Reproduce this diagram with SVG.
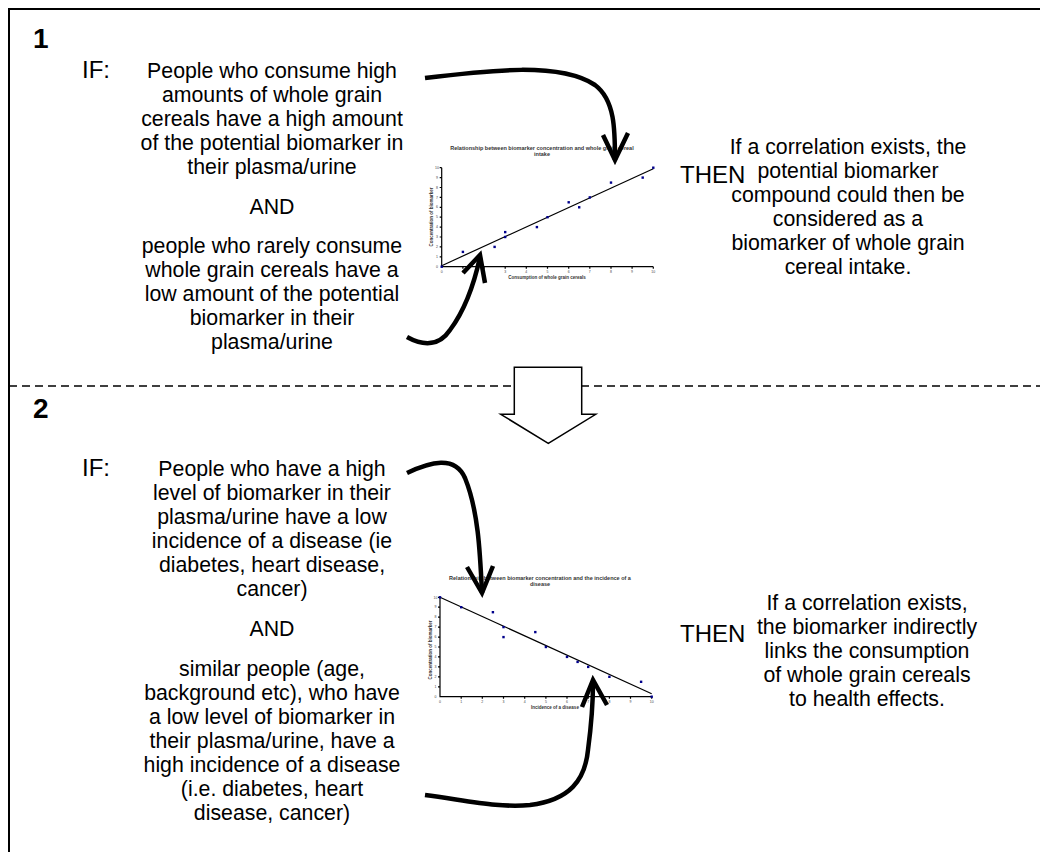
<svg xmlns="http://www.w3.org/2000/svg" width="1040" height="852" viewBox="0 0 1040 852">
<defs>
<style>
.t{font-family:"Liberation Sans",Arial,sans-serif;font-size:21.3px;fill:#000;text-anchor:middle}
.lbl{font-family:"Liberation Sans",Arial,sans-serif;font-size:24px;fill:#000}
.num{font-family:"Liberation Sans",Arial,sans-serif;font-size:28px;font-weight:bold;fill:#000}
.ct{font-family:"Liberation Sans",Arial,sans-serif;font-size:5.5px;font-weight:bold;fill:#333;text-anchor:middle}
.tk{font-family:"Liberation Sans",Arial,sans-serif;font-size:3.5px;fill:#444;text-anchor:middle}
.ax{stroke:#000;stroke-width:1.2;fill:none}
.tr{stroke:#000;stroke-width:1.2;fill:none}
.pt{fill:#00008b}
.arr{stroke:#000;stroke-width:4.5;fill:none;stroke-linecap:butt;stroke-linejoin:miter}
</style>
</defs>
<rect width="1040" height="852" fill="#fff"/>
<path d="M9,860 V9 H1050" fill="none" stroke="#000" stroke-width="2"/>
<line x1="9" y1="386" x2="1040" y2="386" stroke="#000" stroke-width="1.5" stroke-dasharray="8,5"/>

<g id="section1">
<text class="num" x="33" y="48">1</text>
<text class="lbl" x="82" y="78">IF:</text>
<text class="t" x="272"><tspan x="272" y="78">People who consume high</tspan><tspan x="272" y="102">amounts of whole grain</tspan><tspan x="272" y="126">cereals have a high amount</tspan><tspan x="272" y="150">of the potential biomarker in</tspan><tspan x="272" y="174">their plasma/urine</tspan><tspan x="272" y="214">AND</tspan><tspan x="272" y="253">people who rarely consume</tspan><tspan x="272" y="277">whole grain cereals have a</tspan><tspan x="272" y="301">low amount of the potential</tspan><tspan x="272" y="325">biomarker in their</tspan><tspan x="272" y="349">plasma/urine</tspan></text>
<text class="lbl" x="680" y="183">THEN</text>
<text class="t"><tspan x="848" y="154">If a correlation exists, the</tspan><tspan x="848" y="178">potential biomarker</tspan><tspan x="848" y="202">compound could then be</tspan><tspan x="848" y="226">considered as a</tspan><tspan x="848" y="250">biomarker of whole grain</tspan><tspan x="848" y="274">cereal intake.</tspan></text>
</g>

<g id="chart1">
<text class="ct" x="542" y="150">Relationship between biomarker concentration and whole grain cereal</text>
<text class="ct" x="542" y="156">intake</text>
<path class="ax" d="M441.7,167.7 V266.7 H653.3"/>
<path class="ax" stroke-width="0.6" d="M439.7,167.7h2M439.7,177.6h2M439.7,187.5h2M439.7,197.4h2M439.7,207.3h2M439.7,217.2h2M439.7,227.1h2M439.7,237h2M439.7,246.9h2M439.7,256.8h2M462.9,266.7v2M484,266.7v2M505.2,266.7v2M526.3,266.7v2M547.5,266.7v2M568.7,266.7v2M589.8,266.7v2M611,266.7v2M632.1,266.7v2M653.3,266.7v2"/>
<g class="tk">
<text x="437" y="268">0</text><text x="437" y="258">1</text><text x="437" y="248">2</text><text x="437" y="238">3</text><text x="437" y="228">4</text><text x="437" y="218">5</text><text x="437" y="208">6</text><text x="437" y="199">7</text><text x="437" y="189">8</text><text x="437" y="179">9</text><text x="437" y="169">10</text>
<text x="441.7" y="273">0</text><text x="462.9" y="273">1</text><text x="484" y="273">2</text><text x="505.2" y="273">3</text><text x="526.3" y="273">4</text><text x="547.5" y="273">5</text><text x="568.7" y="273">6</text><text x="589.8" y="273">7</text><text x="611" y="273">8</text><text x="632.1" y="273">9</text><text x="653.3" y="273">10</text>
</g>
<text class="ct" x="547" y="279" style="font-size:4.5px">Consumption of whole grain cereals</text>
<text class="ct" transform="translate(433,217) rotate(-90)" style="font-size:4.5px">Concentration of biomarker</text>
<line class="tr" x1="441.7" y1="265.7" x2="653.3" y2="168.7"/>
<g class="pt">
<rect x="440.5" y="265.5" width="2.4" height="2.4"/><rect x="461.7" y="250.7" width="2.4" height="2.4"/><rect x="493.4" y="245.7" width="2.4" height="2.4"/><rect x="504" y="235.8" width="2.4" height="2.4"/><rect x="504" y="230.9" width="2.4" height="2.4"/><rect x="535.7" y="225.9" width="2.4" height="2.4"/><rect x="546.3" y="216" width="2.4" height="2.4"/><rect x="567.5" y="201.1" width="2.4" height="2.4"/><rect x="578" y="206.1" width="2.4" height="2.4"/><rect x="588.6" y="196.2" width="2.4" height="2.4"/><rect x="609.8" y="181.4" width="2.4" height="2.4"/><rect x="641.5" y="176.4" width="2.4" height="2.4"/><rect x="652.1" y="166.5" width="2.4" height="2.4"/>
</g>
</g>

<g id="block-arrow">
<polygon points="514.3,367.3 581.7,367.3 581.7,414.3 595.7,414.3 548.3,443.3 500.7,414.3 514.3,414.3" fill="#fff" stroke="#000" stroke-width="1.5"/>
</g>

<g id="section2">
<text class="num" x="33" y="418">2</text>
<text class="lbl" x="82" y="476">IF:</text>
<text class="t"><tspan x="272" y="476">People who have a high</tspan><tspan x="272" y="500">level of biomarker in their</tspan><tspan x="272" y="524">plasma/urine have a low</tspan><tspan x="272" y="548">incidence of a disease (ie</tspan><tspan x="272" y="572">diabetes, heart disease,</tspan><tspan x="272" y="596">cancer)</tspan><tspan x="272" y="636">AND</tspan><tspan x="272" y="676">similar people (age,</tspan><tspan x="272" y="700">background etc), who have</tspan><tspan x="272" y="724">a low level of biomarker in</tspan><tspan x="272" y="748">their plasma/urine, have a</tspan><tspan x="272" y="772">high incidence of a disease</tspan><tspan x="272" y="796">(i.e. diabetes, heart</tspan><tspan x="272" y="820">disease, cancer)</tspan></text>
<text class="lbl" x="680" y="642">THEN</text>
<text class="t"><tspan x="867" y="610">If a correlation exists,</tspan><tspan x="867" y="634">the biomarker indirectly</tspan><tspan x="867" y="658">links the consumption</tspan><tspan x="867" y="682">of whole grain cereals</tspan><tspan x="867" y="706">to health effects.</tspan></text>
</g>

<g id="chart2">
<text class="ct" x="540" y="580">Relationship between biomarker concentration and the incidence of a</text>
<text class="ct" x="540" y="586">disease</text>
<path class="ax" d="M440,597.3 V696.7 H651.7"/>
<path class="ax" stroke-width="0.6" d="M438,597.3h2M438,607.2h2M438,617.2h2M438,627.1h2M438,637.1h2M438,647h2M438,656.9h2M438,666.9h2M438,676.8h2M438,686.8h2M461.2,696.7v2M482.3,696.7v2M503.5,696.7v2M524.7,696.7v2M545.9,696.7v2M567,696.7v2M588.2,696.7v2M609.4,696.7v2M630.5,696.7v2M651.7,696.7v2"/>
<g class="tk">
<text x="435.5" y="698">0</text><text x="435.5" y="688">1</text><text x="435.5" y="678">2</text><text x="435.5" y="668">3</text><text x="435.5" y="658">4</text><text x="435.5" y="648">5</text><text x="435.5" y="638">6</text><text x="435.5" y="628">7</text><text x="435.5" y="618">8</text><text x="435.5" y="608">9</text><text x="435.5" y="599">10</text>
<text x="440" y="703">0</text><text x="461.2" y="703">1</text><text x="482.3" y="703">2</text><text x="503.5" y="703">3</text><text x="524.7" y="703">4</text><text x="545.9" y="703">5</text><text x="567" y="703">6</text><text x="588.2" y="703">7</text><text x="609.4" y="703">8</text><text x="630.5" y="703">9</text><text x="651.7" y="703">10</text>
</g>
<text class="ct" x="555" y="709" style="font-size:4.5px">Incidence of a disease</text>
<text class="ct" transform="translate(431.5,650) rotate(-90)" style="font-size:4.5px">Concentration of biomarker</text>
<line class="tr" x1="440" y1="597.3" x2="651.7" y2="693.7"/>
<g class="pt">
<rect x="438.8" y="596.1" width="2.4" height="2.4"/><rect x="460" y="606" width="2.4" height="2.4"/><rect x="491.7" y="611" width="2.4" height="2.4"/><rect x="502.3" y="625.9" width="2.4" height="2.4"/><rect x="502.3" y="635.9" width="2.4" height="2.4"/><rect x="534.1" y="630.9" width="2.4" height="2.4"/><rect x="544.7" y="645.8" width="2.4" height="2.4"/><rect x="565.8" y="655.7" width="2.4" height="2.4"/><rect x="576.4" y="660.7" width="2.4" height="2.4"/><rect x="587" y="665.7" width="2.4" height="2.4"/><rect x="608.2" y="675.6" width="2.4" height="2.4"/><rect x="639.9" y="680.6" width="2.4" height="2.4"/><rect x="650.5" y="695.5" width="2.4" height="2.4"/>
</g>
</g>

<g id="connectors">
<path class="arr" d="M425,78 C490,70 560,62 595,85 C615,100 615,130 615,160"/>
<path class="arr" d="M603,135 L615,160 L628,133"/>
<path class="arr" d="M407,337 C425,347 440,345 450,330 C465,310 475,280 480,257"/>
<path class="arr" d="M463,273 L480,255 L485,283"/>
<path class="arr" d="M407,473 C430,462 455,455 465,478 C478,510 480,550 482,593"/>
<path class="arr" d="M467,567 L482,593 L493,566"/>
<path class="arr" d="M425,795 C470,801 500,808 530,805 C570,800 585,780 588,750 C592,720 593,700 593,682"/>
<path class="arr" d="M582,707 L593,680 L607,705"/>
</g>
</svg>
